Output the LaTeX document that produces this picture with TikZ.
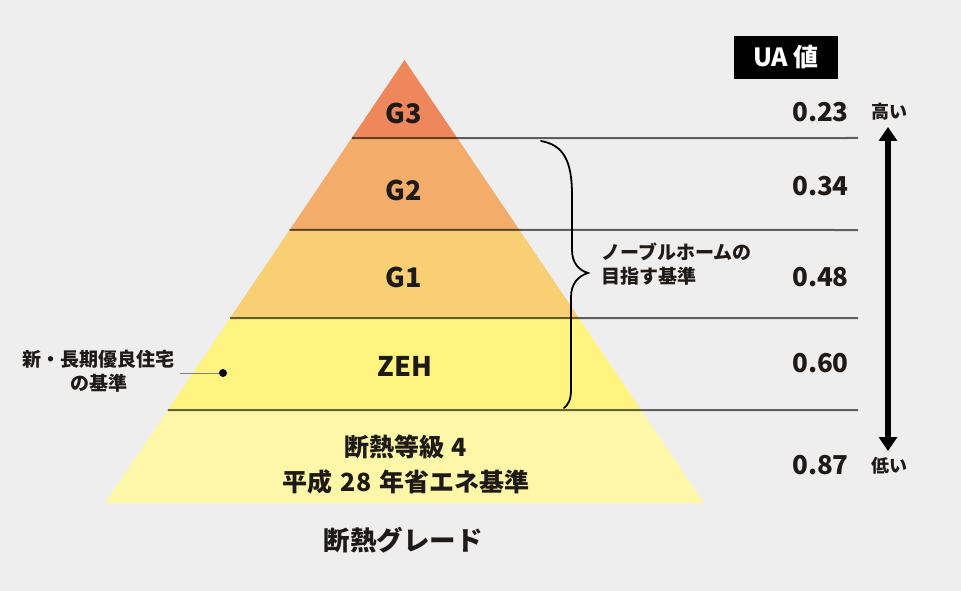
\documentclass[tikz,border=0pt]{standalone}
\usepackage{fontspec}
\setmainfont{Noto Sans CJK JP}
\usetikzlibrary{calc,arrows.meta}
\definecolor{bg}{HTML}{EEEEEE}
\definecolor{cgthree}{HTML}{EE875C}
\definecolor{cgtwo}{HTML}{F3AC69}
\definecolor{cgone}{HTML}{F8D073}
\definecolor{czeh}{HTML}{FFF47F}
\definecolor{cbase}{HTML}{FFF7A8}
\definecolor{ink}{HTML}{1E1A17}
\tikzset{
  grade/.style={font=\fontsize{27}{30}\selectfont\bfseries, text=ink, inner sep=0pt},
  uaval/.style={font=\fontsize{26}{30}\selectfont\bfseries, text=ink, inner sep=0pt, anchor=east},
  small/.style={font=\fontsize{18}{20}\selectfont\bfseries, text=ink, inner sep=0pt},
  note/.style={font=\fontsize{19}{24}\selectfont\bfseries, text=ink, inner sep=0pt},
  level/.style={draw=black, draw opacity=0.6, line width=2pt},
}
\begin{document}
\begin{tikzpicture}[x=1pt,y=-1pt]
\fill[bg] (0,0) rectangle (961,591);
\useasboundingbox (0,0) rectangle (961,591);
\coordinate (apex) at (404.5,60);
\coordinate (bl) at (105,503);
\coordinate (br) at (704,503);
\begin{scope}
\clip (apex) -- (bl) -- (br) -- cycle;
\fill[cgthree] (0,55) rectangle (961,138);
\fill[cgtwo] (0,138) rectangle (961,230);
\fill[cgone] (0,230) rectangle (961,318);
\fill[czeh] (0,318) rectangle (961,410);
\fill[cbase] (0,410) rectangle (961,505);
\end{scope}
% level lines
\coordinate (l1) at ($(apex)!0.1761!(bl)$);
\coordinate (l2) at ($(apex)!0.3837!(bl)$);
\coordinate (l3) at ($(apex)!0.5824!(bl)$);
\coordinate (l4) at ($(apex)!0.7901!(bl)$);
\coordinate (r1) at (858,138);
\coordinate (r2) at (858,230);
\coordinate (r3) at (858,318);
\coordinate (r4) at (858,410);
\draw[level] (l1) -- (r1);
\draw[level] (l2) -- (r2);
\draw[level] (l3) -- (r3);
\draw[level] (l4) -- (r4);
% grade labels
\node[grade] (g3) at (404,113) {G3};
\node[grade] (g2) at (404,190) {G2};
\node[grade] (g1) at (404,277) {G1};
\node[grade] (zeh) at (405,366) {ZEH};
\node[font=\fontsize{25}{35}\selectfont\bfseries, text=ink, inner sep=0pt, align=center] (base) at (406,465) {断熱等級\hspace{7pt}4\\平成\hspace{8pt}28\hspace{8pt}年省エネ基準};
\node[font=\fontsize{26.5}{30}\selectfont\bfseries, text=ink, inner sep=0pt] (title) at (403,540) {断熱グレード};
% UA column
\node[fill=black, text=white, font=\fontsize{25}{28}\selectfont\bfseries, minimum width=104pt, minimum height=43pt, inner sep=0pt] (ua) at (786,57.5) {UA 値};
\node[uaval] (v1) at (849,112) {0.23};
\node[uaval] (v2) at (849,186) {0.34};
\node[uaval] (v3) at (849,277) {0.48};
\node[uaval] (v4) at (849,363) {0.60};
\node[uaval] (v5) at (849,465) {0.87};
\node[small] (high) at (889,112) {高い};
\node[small] (low) at (889,466) {低い};
\coordinate (atop) at (888,127);
\coordinate (abot) at (888,451);
\draw[line width=6pt, {Triangle[width=18pt,length=14pt]}-{Triangle[width=18pt,length=14pt]}] (atop) -- (abot);
% brace
\coordinate (bt) at (541,141);
\coordinate (btip) at (588,273);
\coordinate (bb) at (564,408);
\draw[line width=1.8pt, line cap=round] (bt) .. controls (563,145) and (572,160) .. (572,195) -- (572,250) .. controls (572,262) and (578,270) .. (btip) .. controls (578,276) and (571,284) .. (571,297) -- (571,390) .. controls (571,400) and (568,405) .. (bb);
\node[note, anchor=west, align=left] (goal) at (601,264.5) {ノーブルホームの\\目指す基準};
% left label
\node[note, align=center] (chouki) at (99,371.5) {新・長期優良住宅\\の基準};
\coordinate (lstart) at (180,373);
\node[circle, fill=black, inner sep=0pt, minimum size=8pt] (dot) at (223,373) {};
\draw[gray, line width=1pt] (lstart) -- (dot);
\end{tikzpicture}
\end{document}
